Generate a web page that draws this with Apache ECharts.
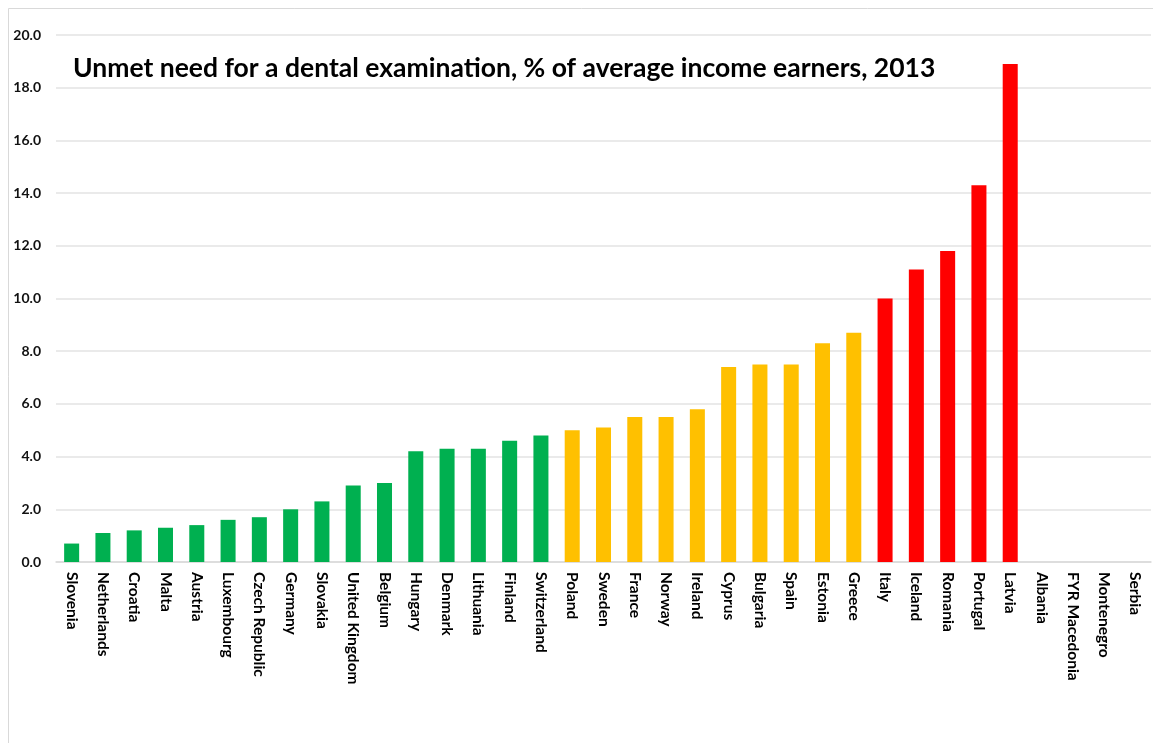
<!DOCTYPE html>
<html>
<head>
<meta charset="utf-8">
<script src="https://cdn.jsdelivr.net/npm/echarts@6/dist/echarts.min.js"></script>
<style>
html,body{margin:0;padding:0;background:#fff;}
#c{width:1153px;height:743px;}
</style>
</head>
<body>
<div id="c"></div>
<script>
const categories = ["Slovenia","Netherlands","Croatia","Malta","Austria","Luxembourg","Czech Republic","Germany","Slovakia","United Kingdom","Belgium","Hungary","Denmark","Lithuania","Finland","Switzerland","Poland","Sweden","France","Norway","Ireland","Cyprus","Bulgaria","Spain","Estonia","Greece","Italy","Iceland","Romania","Portugal","Latvia","Albania","FYR Macedonia","Montenegro","Serbia"];
const values = [0.7,1.1,1.2,1.3,1.4,1.6,1.7,2.0,2.3,2.9,3.0,4.2,4.3,4.3,4.6,4.8,5.0,5.1,5.5,5.5,5.8,7.4,7.5,7.5,8.3,8.7,10.0,11.1,11.8,14.3,18.9,null,null,null,null];
const groups = ["low","low","low","low","low","low","low","low","low","low","low","low","low","low","low","low","mid","mid","mid","mid","mid","mid","mid","mid","mid","mid","high","high","high","high","high","none","none","none","none"];
const yTicks = [0,2,4,6,8,10,12,14,16,18,20];
const titleText = "Unmet need for a dental examination, % of average income earners, 2013";

const groupColor = {low:"#00B050", mid:"#FFC000", high:"#FF0000", none:"#FFFFFF"};
const chart = echarts.init(document.getElementById('c'));
chart.setOption({
  animation:false,
  backgroundColor:"#fff",
  graphic:[{type:'rect', shape:{x:8.5,y:8.5,width:1170,height:800}, style:{fill:'none', stroke:'#d9d9d9', lineWidth:1}, silent:true, z:-1}],
  title:{text:titleText, left:68, top:50, textStyle:{fontFamily:"Lato", fontWeight:"bold", fontSize:26.5, color:"#000"}},
  grid:{left:56, right:2, top:35, bottom:181, containLabel:false},
  xAxis:{type:'category', data:categories,
    axisLine:{lineStyle:{color:'#d9d9d9', width:1.5}}, axisTick:{show:false},
    axisLabel:{rotate:-90, interval:0, margin:10, fontFamily:"Lato", fontWeight:"bold", fontSize:15.5, color:"#000"}},
  yAxis:{type:'value', min:yTicks[0], max:yTicks[yTicks.length-1], interval:2,
    axisLine:{show:false}, axisTick:{show:false},
    splitLine:{lineStyle:{color:'#e3e3e3', width:1.5}},
    axisLabel:{margin:15, fontFamily:"Lato", fontWeight:"bold", fontSize:14, color:"#111", formatter:v=>v.toFixed(1)}},
  series:[{type:'bar', barWidth:'48%',
    data: values.map((v,i)=>({value:v, itemStyle:{color:groupColor[groups[i]]}}))}]
});
</script>
</body>
</html>
